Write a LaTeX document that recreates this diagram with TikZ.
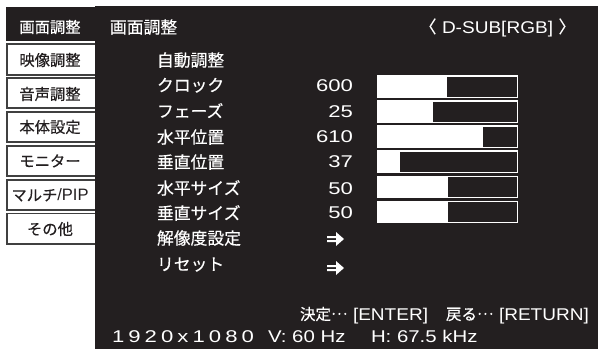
\documentclass[tikz,border=0pt]{standalone}
\usepackage{fontspec}
\setmainfont[FakeBold=0.35]{Noto Sans CJK JP}
\newfontfamily\plainlatin{Liberation Sans}
\newfontfamily\latinwide[FakeStretch=1.12]{Liberation Sans}
\newfontfamily\lowerwide[FakeStretch=1.2]{Liberation Sans}
\newfontfamily\digitwide[FakeStretch=1.3]{Liberation Sans}
\newfontfamily\bottomwide[FakeStretch=1.3,LetterSpace=24]{Liberation Sans}
\newcommand{\middots}{\raisebox{.33em}{…}}
\definecolor{panel}{HTML}{231F20}
\definecolor{tabline}{HTML}{404040}
\tikzset{
 every node/.style={inner sep=0pt,outer sep=0pt,text height=0pt,text depth=0pt},
 tabbox/.style={draw=tabline,line width=1.1pt,fill=white},
 tabtext/.style={text=panel,font=\fontsize{15.3}{16}\selectfont,anchor=center,yshift=-5.8pt},
 menutext/.style={text=white,font=\fontsize{16.8}{17}\selectfont,anchor=west,yshift=-6.4pt},
 valuetext/.style={text=white,font=\fontsize{17}{18}\digitwide,anchor=east,yshift=-6.8pt},
 hinttext/.style={text=white,font=\fontsize{17}{18}\latinwide,anchor=west,yshift=-6.1pt},
 lowertext/.style={text=white,font=\fontsize{17}{18}\lowerwide,anchor=west,yshift=-6.1pt},
 hintjp/.style={text=white,font=\fontsize{15.5}{16}\selectfont,anchor=west,yshift=-5.9pt},
 barframe/.style={draw=white,line width=1.2pt,fill=panel},
 barfill/.style={fill=white},
 arrowmark/.style={fill=white}
}
\begin{document}
\begin{tikzpicture}[x=1pt,y=-1pt]
\useasboundingbox (0,0) rectangle (598,349);
\fill[white] (0,0) rectangle (598,349);
% tabs
\draw[tabbox] (7,44) rectangle (100,75);
\draw[tabbox] (7,78) rectangle (100,108);
\draw[tabbox] (7,112) rectangle (100,142);
\draw[tabbox] (7,146) rectangle (100,176);
\draw[tabbox] (7,180) rectangle (100,210);
\draw[tabbox] (7,213.5) rectangle (100,244);
\fill[panel] (6,7) rectangle (96,41);
\fill[panel] (95,6) rectangle (598,349);
\node[tabtext,text=white] (t1) at (50,27) {画面調整};
\node[tabtext] (t2) at (50,60) {映像調整};
\node[tabtext] (t3) at (50,94) {音声調整};
\node[tabtext] (t4) at (50,127) {本体設定};
\node[tabtext] (t5) at (50,161) {モニター};
\node[tabtext] (t6) at (50,195) {マルチ{\fontsize{16.5}{17}\plainlatin/PIP}};
\node[tabtext] (t7) at (50,229) {その他};
% title
\node[menutext] (title) at (110,27) {画面調整};
\node[hintjp,anchor=center,font=\fontsize{17}{18}\selectfont] (la) at (428,27) {〈};
\node[hinttext] (src) at (442,27) {D-SUB[RGB]};
\node[hintjp,anchor=center,font=\fontsize{17}{18}\selectfont] (ra) at (567,27) {〉};
% menu
\node[menutext] (m1) at (157,60) {自動調整};
\node[menutext] (m2) at (157,85) {クロック};
\node[menutext] (m3) at (157,111) {フェーズ};
\node[menutext] (m4) at (157,137) {水平位置};
\node[menutext] (m5) at (157,162) {垂直位置};
\node[menutext] (m6) at (157,188) {水平サイズ};
\node[menutext] (m7) at (157,213) {垂直サイズ};
\node[menutext] (m8) at (157,238) {解像度設定};
\node[menutext] (m9) at (157,264) {リセット};
% values
\node[valuetext] (v2) at (353,85) {600};
\node[valuetext] (v3) at (353,111) {25};
\node[valuetext] (v4) at (353,136) {610};
\node[valuetext] (v5) at (353,161) {37};
\node[valuetext] (v6) at (353,188) {50};
\node[valuetext] (v7) at (353,212) {50};
% bars
\draw[barframe] (378,76) rectangle (517.5,97.5); \fill[barfill] (377,75.5) rectangle (447,98);
\draw[barframe] (378,101) rectangle (517.5,122.5); \fill[barfill] (377,100.5) rectangle (433,123);
\draw[barframe] (378,126) rectangle (517.5,147.5); \fill[barfill] (377,125.5) rectangle (483,148);
\draw[barframe] (378,151) rectangle (517.5,172.5); \fill[barfill] (377,150.5) rectangle (400,173);
\draw[barframe] (378,176.5) rectangle (517.5,197.5); \fill[barfill] (377,176) rectangle (448,198);
\draw[barframe] (378,201.5) rectangle (517.5,222.5); \fill[barfill] (377,201) rectangle (448,223);
% arrows
\fill[arrowmark] (327,236) rectangle (336,238) (327,240) rectangle (336,242) (336,232) -- (344,239) -- (336,246) -- cycle;
\fill[arrowmark] (327,265) rectangle (336,267) (327,269) rectangle (336,271) (336,261) -- (344,268) -- (336,275) -- cycle;
% bottom
\node[hintjp] (b1) at (300,314) {決定\middots};
\node[hinttext] (b2) at (353,314) {[ENTER]};
\node[hintjp] (b3) at (446,314) {戻る\middots};
\node[hinttext] (b4) at (499,314) {[RETURN]};
\node[valuetext,anchor=west,font=\fontsize{17}{18}\bottomwide] (s1) at (112,336) {1920x1080};
\node[lowertext] (s2) at (268,336) {V: 60 Hz};
\node[lowertext] (s3) at (371,336) {H: 67.5 kHz};
\end{tikzpicture}
\end{document}
